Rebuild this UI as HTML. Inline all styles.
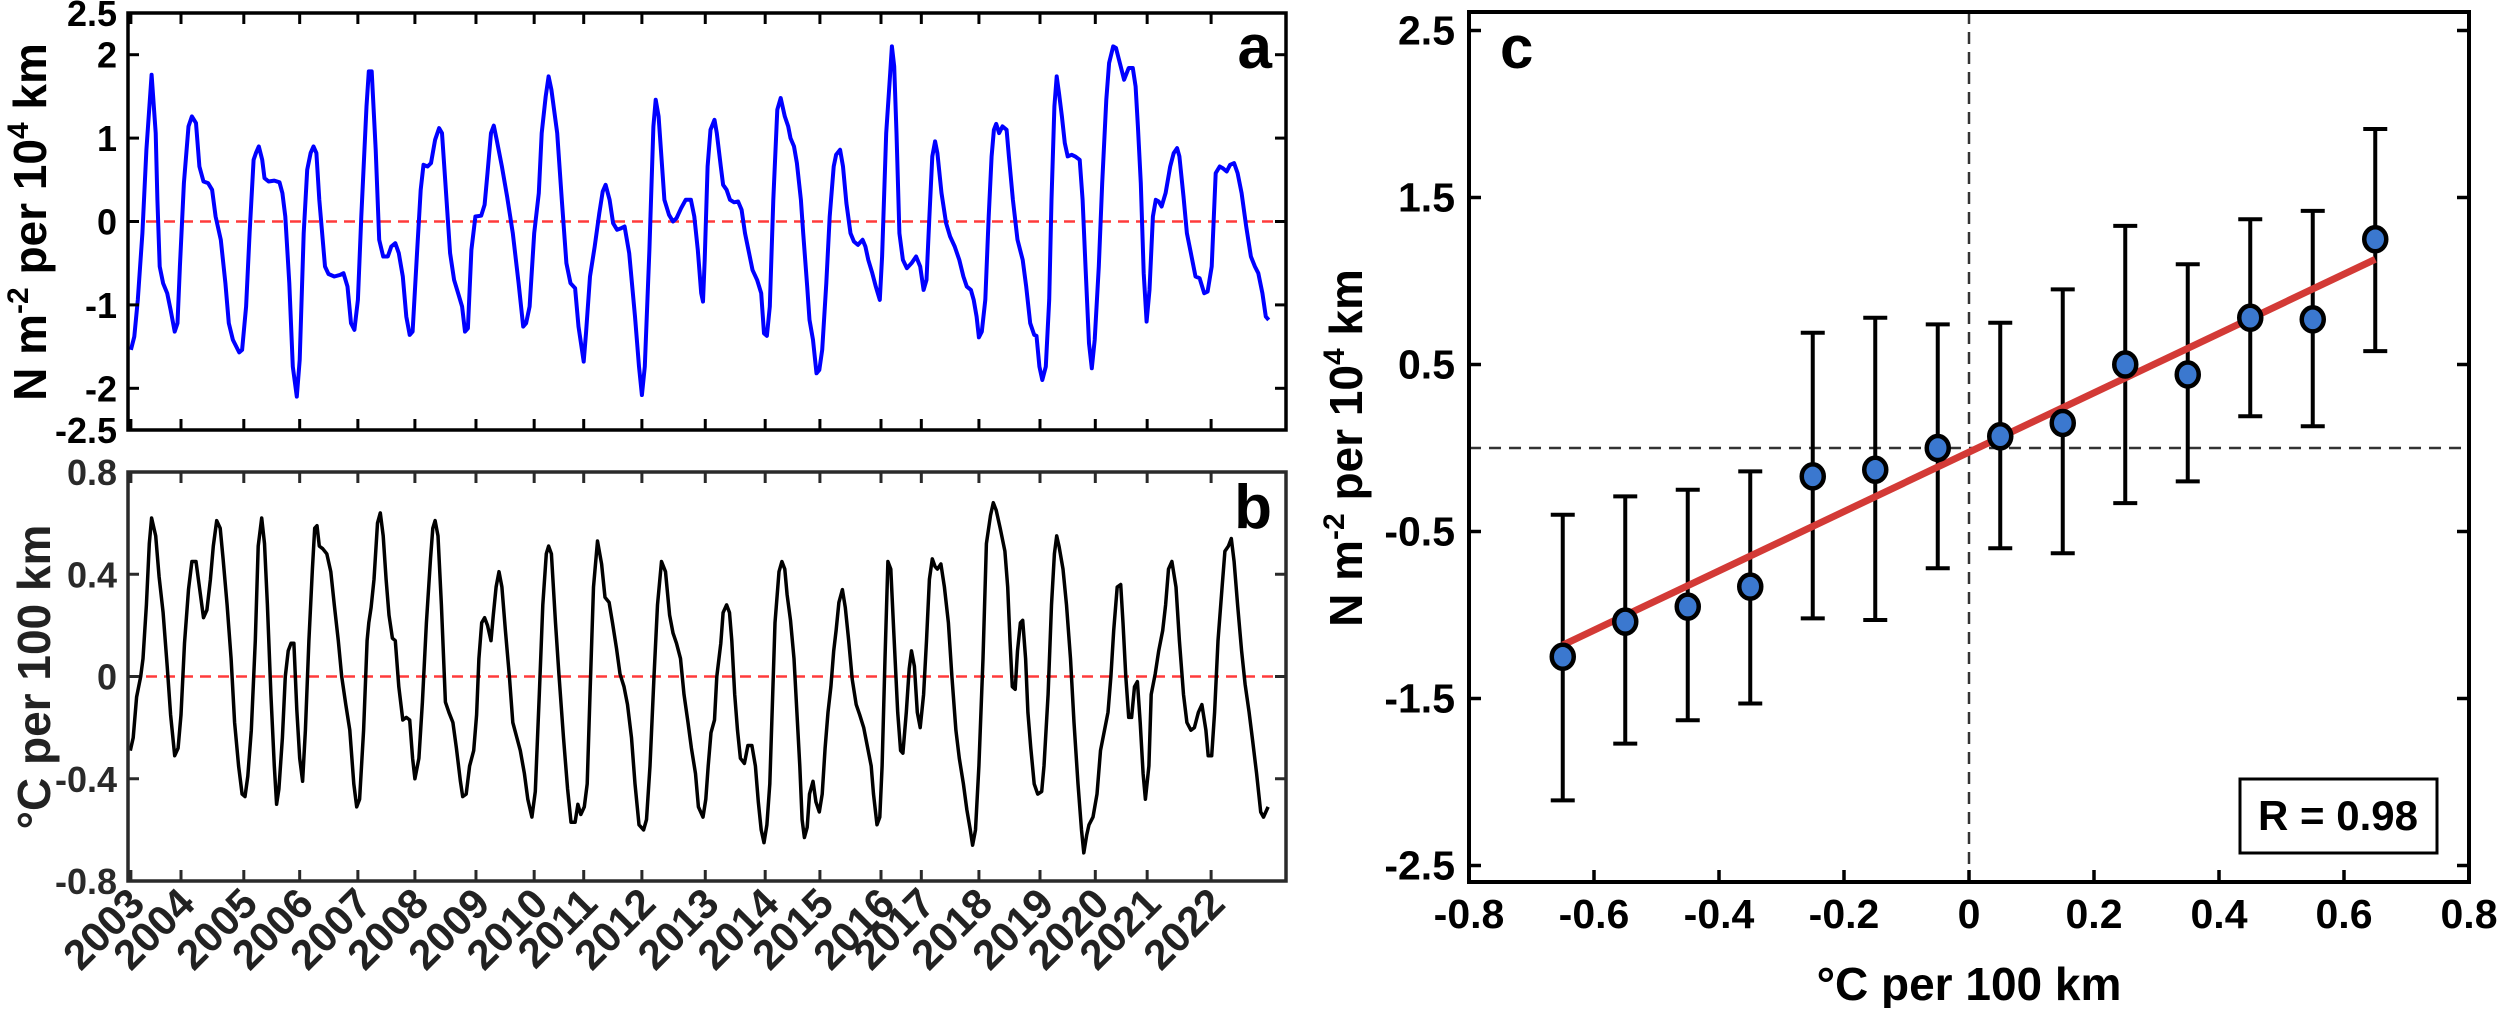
<!DOCTYPE html>
<html><head><meta charset="utf-8"><style>
html,body{margin:0;padding:0;background:#fff;}
svg text{font-family:"Liberation Sans",Arial,sans-serif;font-weight:bold;}
</style></head><body>
<svg id="fig" width="2500" height="1008" viewBox="0 0 2500 1008" xmlns="http://www.w3.org/2000/svg">
<g id="pa"></g>
<g id="pb"></g>
<g id="pc"></g>
</svg>
<script>
// ---------- Panel a / b data (time in years since 2003) ----------
const aT=[0.00,0.06,0.12,0.20,0.27,0.36,0.43,0.46,0.50,0.56,0.63,0.69,0.76,0.81,0.85,0.92,1.00,1.06,1.13,1.19,1.26,1.34,1.41,1.47,1.56,1.64,1.70,1.77,1.88,1.93,2.00,2.06,2.13,2.17,2.22,2.28,2.32,2.39,2.49,2.58,2.63,2.68,2.75,2.81,2.88,2.93,3.00,3.06,3.12,3.17,3.22,3.27,3.37,3.43,3.53,3.63,3.69,3.76,3.82,3.88,3.94,4.00,4.09,4.13,4.18,4.25,4.31,4.38,4.46,4.52,4.59,4.65,4.72,4.78,4.84,4.89,4.97,5.03,5.08,5.15,5.21,5.28,5.35,5.40,5.46,5.54,5.61,5.68,5.75,5.80,5.85,5.91,5.98,6.08,6.14,6.19,6.25,6.30,6.35,6.44,6.53,6.63,6.73,6.81,6.86,6.92,7.00,7.08,7.13,7.20,7.25,7.30,7.40,7.48,7.56,7.63,7.71,7.77,7.86,7.90,7.97,8.05,8.13,8.19,8.24,8.31,8.37,8.44,8.51,8.57,8.65,8.75,8.82,8.87,8.92,9.00,9.07,9.11,9.16,9.26,9.34,9.41,9.47,9.55,9.63,9.72,9.78,9.84,9.90,9.93,
9.96,10.01,10.06,10.13,10.17,10.24,10.28,10.34,10.40,10.47,10.54,10.60,10.66,10.73,10.79,10.87,10.94,10.99,11.04,11.09,11.15,11.22,11.28,11.35,11.41,11.45,11.51,11.56,11.63,11.67,11.74,11.78,11.84,11.90,11.95,12.00,12.07,12.13,12.20,12.24,12.31,12.36,12.42,12.49,12.55,12.62,12.70,12.75,12.80,12.87,12.93,13.00,13.04,13.11,13.18,13.21,13.25,13.29,13.34,13.40,13.47,13.55,13.63,13.70,13.76,13.81,13.86,13.91,13.96,14.00,14.07,14.15,14.22,14.30,14.38,14.45,14.51,14.58,14.63,14.68,14.72,14.77,14.83,14.89,14.94,14.98,15.02,15.07,15.13,15.20,15.24,15.31,15.39,15.48,15.54,15.61,15.68,15.72,15.77,15.82,15.88,15.94,15.98,16.03,16.07,16.11,16.16,16.21,16.26,16.33,16.39,16.47,16.52,16.57,16.63,16.68,16.73,16.80,16.86,16.93,16.98,17.05,17.10,17.18,17.24,17.32,17.39,17.44,17.48,17.53,17.58,17.63,17.68,17.74,17.79,17.84,17.89,17.96,18.04,18.10,18.16,18.20,18.27,18.33,18.40,18.48,18.55,18.63,18.69,18.76,18.83,18.90,18.95,19.02,19.08,19.15,19.21,19.28,19.36,19.44,19.51,19.57,19.64,19.70,19.75];
const aV=[-1.54,-1.38,-0.94,-0.14,0.86,1.76,1.06,0.26,-0.54,-0.74,-0.86,-1.06,-1.32,-1.22,-0.54,0.46,1.14,1.26,1.18,0.66,0.48,0.46,0.38,0.06,-0.22,-0.74,-1.22,-1.42,-1.57,-1.54,-1.02,-0.14,0.74,0.82,0.90,0.74,0.52,0.48,0.49,0.47,0.34,0.06,-0.74,-1.74,-2.10,-1.66,-0.14,0.62,0.82,0.90,0.82,0.26,-0.54,-0.63,-0.66,-0.64,-0.62,-0.78,-1.22,-1.30,-0.94,0.06,1.38,1.80,1.80,0.86,-0.22,-0.42,-0.42,-0.30,-0.26,-0.38,-0.66,-1.14,-1.36,-1.32,-0.34,0.38,0.68,0.66,0.70,0.98,1.12,1.06,0.46,-0.38,-0.70,-0.86,-1.02,-1.32,-1.28,-0.34,0.06,0.07,0.20,0.58,1.06,1.15,0.98,0.66,0.30,-0.14,-0.74,-1.26,-1.22,-1.02,-0.14,0.34,1.06,1.50,1.74,1.58,1.06,0.26,-0.50,-0.74,-0.80,-1.26,-1.68,-1.34,-0.66,-0.30,0.10,0.36,0.44,0.26,-0.02,-0.10,-0.08,-0.06,-0.38,-1.14,-1.74,-2.08,-1.74,-0.34,1.14,1.46,1.26,0.26,0.08,0.00,0.04,0.16,0.26,0.26,0.06,-0.34,-0.86,-0.96,
-0.46,0.66,1.10,1.22,1.06,0.66,0.44,0.38,0.26,0.23,0.24,0.14,-0.14,-0.38,-0.58,-0.70,-0.86,-1.34,-1.37,-1.02,0.26,1.34,1.48,1.26,1.14,1.00,0.90,0.70,0.26,-0.14,-0.78,-1.18,-1.42,-1.82,-1.78,-1.54,-0.74,0.06,0.66,0.80,0.86,0.66,0.22,-0.14,-0.24,-0.28,-0.22,-0.30,-0.46,-0.62,-0.78,-0.94,-0.42,1.06,1.78,2.10,1.86,1.06,-0.14,-0.46,-0.56,-0.50,-0.42,-0.54,-0.82,-0.70,0.06,0.78,0.96,0.82,0.34,-0.02,-0.18,-0.30,-0.46,-0.66,-0.78,-0.82,-0.94,-1.14,-1.39,-1.32,-0.94,0.06,0.78,1.10,1.17,1.06,1.14,1.10,0.78,0.26,-0.22,-0.46,-0.78,-1.22,-1.36,-1.37,-1.74,-1.90,-1.74,-0.94,0.26,1.38,1.74,1.54,1.26,0.94,0.78,0.80,0.78,0.74,0.26,-0.54,-1.46,-1.76,-1.42,-0.54,0.46,1.46,1.90,2.10,2.08,1.86,1.70,1.84,1.84,1.62,1.14,0.46,-0.62,-1.20,-0.82,0.06,0.26,0.24,0.18,0.34,0.66,0.82,0.88,0.78,0.30,-0.14,-0.38,-0.66,-0.68,-0.86,-0.84,-0.54,0.58,0.66,0.64,0.60,0.68,0.70,0.58,0.34,-0.06,-0.42,-0.54,-0.62,-0.86,-1.14,-1.18];
const bT=[-0.01,0.04,0.10,0.17,0.21,0.27,0.32,0.36,0.43,0.49,0.56,0.63,0.69,0.76,0.82,0.87,0.93,1.00,1.06,1.13,1.19,1.26,1.32,1.38,1.43,1.49,1.55,1.60,1.67,1.74,1.80,1.87,1.93,1.98,2.03,2.09,2.16,2.21,2.27,2.32,2.37,2.43,2.49,2.53,2.57,2.63,2.68,2.73,2.78,2.83,2.88,2.93,2.98,3.03,3.09,3.15,3.19,3.23,3.27,3.33,3.40,3.47,3.53,3.60,3.66,3.73,3.80,3.87,3.92,3.97,4.04,4.10,4.13,4.17,4.22,4.28,4.33,4.38,4.43,4.48,4.54,4.59,4.65,4.72,4.78,4.84,4.89,4.93,5.00,5.06,5.13,5.20,5.24,5.28,5.33,5.39,5.46,5.52,5.59,5.65,5.72,5.76,5.82,5.88,5.95,6.00,6.04,6.09,6.14,6.19,6.25,6.29,6.34,6.39,6.44,6.50,6.57,6.63,6.70,6.76,6.83,6.89,6.96,7.02,7.09,7.15,7.21,7.25,7.30,7.37,7.43,7.51,7.58,7.64,7.71,7.76,7.81,7.87,7.92,7.97,8.03,8.10,8.17,8.23,8.30,8.36,8.43,8.49,8.56,8.62,8.69,8.75,8.82,8.90,8.95,9.01,9.08,9.14,9.21,9.28,9.35,9.41,9.47,9.54,9.60,9.67,9.73,9.80,9.85,
9.93,9.98,10.02,10.07,10.13,10.17,10.24,10.28,10.34,10.39,10.43,10.48,10.53,10.58,10.65,10.71,10.78,10.84,10.89,10.94,10.99,11.04,11.09,11.14,11.18,11.25,11.30,11.35,11.39,11.45,11.51,11.56,11.61,11.65,11.69,11.74,11.78,11.84,11.89,11.95,12.00,12.05,12.10,12.15,12.20,12.24,12.29,12.35,12.40,12.46,12.52,12.59,12.65,12.72,12.78,12.85,12.89,12.95,13.00,13.04,13.09,13.14,13.19,13.24,13.31,13.36,13.40,13.46,13.51,13.55,13.60,13.65,13.70,13.76,13.81,13.86,13.91,13.96,14.00,14.06,14.12,14.19,14.25,14.32,14.38,14.45,14.51,14.57,14.61,14.66,14.72,14.79,14.85,14.92,14.97,15.02,15.09,15.17,15.22,15.26,15.30,15.35,15.39,15.44,15.48,15.53,15.57,15.62,15.68,15.74,15.81,15.85,15.92,15.98,16.03,16.07,16.11,16.18,16.24,16.31,16.37,16.44,16.50,16.54,16.59,16.63,16.70,16.77,16.83,16.90,16.96,17.01,17.06,17.12,17.18,17.22,17.27,17.32,17.37,17.42,17.47,17.52,17.57,17.61,17.67,17.71,17.78,17.84,17.91,17.96,18.01,18.07,18.14,18.20,18.27,18.33,18.40,18.46,18.53,18.59,18.66,18.70,18.76,18.81,18.87,18.94,18.99,19.05,19.10,19.15,19.21,19.28,19.34,19.41,19.47,19.54,19.61,19.66,19.74];
const bV=[-0.29,-0.24,-0.08,0.00,0.07,0.28,0.52,0.62,0.55,0.39,0.25,0.04,-0.15,-0.31,-0.28,-0.15,0.13,0.34,0.45,0.45,0.35,0.23,0.26,0.38,0.51,0.61,0.58,0.46,0.28,0.07,-0.18,-0.35,-0.46,-0.47,-0.39,-0.21,0.14,0.51,0.62,0.52,0.28,-0.07,-0.35,-0.50,-0.44,-0.24,0.00,0.10,0.13,0.13,-0.13,-0.32,-0.41,-0.21,0.14,0.42,0.58,0.59,0.51,0.50,0.48,0.41,0.28,0.14,0.00,-0.11,-0.21,-0.42,-0.51,-0.48,-0.21,0.14,0.21,0.27,0.38,0.60,0.64,0.55,0.38,0.24,0.15,0.14,-0.04,-0.17,-0.16,-0.17,-0.32,-0.40,-0.32,-0.10,0.21,0.46,0.58,0.61,0.55,0.28,-0.10,-0.14,-0.18,-0.28,-0.41,-0.47,-0.46,-0.35,-0.29,-0.15,0.07,0.21,0.23,0.20,0.14,0.24,0.35,0.41,0.35,0.18,0.00,-0.18,-0.24,-0.29,-0.38,-0.48,-0.55,-0.45,-0.07,0.28,0.48,0.51,0.48,0.21,0.01,-0.24,-0.44,-0.57,-0.57,-0.50,-0.54,-0.51,-0.42,-0.07,0.35,0.53,0.44,0.31,0.29,0.21,0.11,0.01,-0.04,-0.11,-0.24,-0.42,-0.58,-0.60,-0.56,-0.35,0.00,0.28,0.45,0.41,0.24,0.17,0.13,0.07,-0.07,-0.18,-0.28,-0.38,-0.51,
-0.55,-0.48,-0.35,-0.22,-0.17,0.00,0.13,0.25,0.28,0.25,0.14,-0.07,-0.21,-0.32,-0.34,-0.27,-0.27,-0.35,-0.49,-0.60,-0.65,-0.58,-0.42,-0.07,0.21,0.41,0.45,0.42,0.32,0.22,0.07,-0.14,-0.35,-0.56,-0.63,-0.59,-0.46,-0.41,-0.49,-0.53,-0.46,-0.28,-0.14,-0.04,0.10,0.18,0.29,0.34,0.27,0.14,-0.01,-0.11,-0.15,-0.20,-0.27,-0.35,-0.46,-0.58,-0.55,-0.35,0.07,0.45,0.42,0.18,-0.14,-0.29,-0.30,-0.14,0.03,0.10,0.04,-0.14,-0.20,-0.07,0.14,0.38,0.46,0.43,0.42,0.44,0.35,0.21,0.00,-0.21,-0.32,-0.42,-0.52,-0.60,-0.66,-0.60,-0.35,0.07,0.52,0.63,0.68,0.65,0.58,0.49,0.35,0.14,-0.04,-0.05,0.10,0.21,0.22,0.07,-0.14,-0.28,-0.42,-0.46,-0.45,-0.35,-0.07,0.28,0.48,0.55,0.51,0.42,0.28,0.07,-0.18,-0.42,-0.60,-0.69,-0.62,-0.58,-0.55,-0.46,-0.29,-0.21,-0.14,0.00,0.18,0.35,0.36,0.21,0.00,-0.16,-0.16,-0.04,-0.02,-0.18,-0.38,-0.48,-0.35,-0.07,0.01,0.10,0.18,0.28,0.42,0.45,0.35,0.14,-0.07,-0.18,-0.21,-0.20,-0.14,-0.11,-0.21,-0.31,-0.31,-0.14,0.14,0.35,0.49,0.51,0.54,0.45,0.28,0.10,-0.03,-0.14,-0.25,-0.38,-0.53,-0.55,-0.51];
const yearTickT=[0,0.87,1.96,2.93,3.94,4.93,5.99,7.00,7.86,8.87,9.97,11.01,11.96,13.02,13.72,14.72,15.78,16.74,17.64,18.75];
const yearLabels=["2003","2004","2005","2006","2007","2008","2009","2010","2011","2012","2013","2014","2015","2016","2017","2018","2019","2020","2021","2022"];
const aTicks=[2,1,0,-1,-2];
const aTickLabels=["2.5","2","1","0","-1","-2","-2.5"];
const aTickLabelVals=[2.5,2,1,0,-1,-2,-2.5];
const bTicks=[0.4,0,-0.4];
const bTickLabels=["0.8","0.4","0","-0.4","-0.8"];
const bTickLabelVals=[0.8,0.4,0,-0.4,-0.8];
// ---------- Panel c data ----------
const cX=[-0.65,-0.55,-0.45,-0.35,-0.25,-0.15,-0.05,0.05,0.15,0.25,0.35,0.45,0.55,0.65];
const cY=[-1.25,-1.04,-0.95,-0.83,-0.17,-0.13,0.00,0.07,0.15,0.50,0.44,0.78,0.77,1.25];
const cHi=[-0.40,-0.29,-0.25,-0.14,0.69,0.78,0.74,0.75,0.95,1.33,1.10,1.37,1.42,1.91];
const cLo=[-2.11,-1.77,-1.63,-1.53,-1.02,-1.03,-0.72,-0.60,-0.63,-0.33,-0.20,0.19,0.13,0.58];
const fitX=[-0.65,0.65];
const fitY=[-1.18,1.13];
const cXTicks=[-0.8,-0.6,-0.4,-0.2,0,0.2,0.4,0.6,0.8];
const cXTickLabels=["-0.8","-0.6","-0.4","-0.2","0","0.2","0.4","0.6","0.8"];
const cYTicks=[2.5,1.5,0.5,-0.5,-1.5,-2.5];
const cYTickLabels=["2.5","1.5","0.5","-0.5","-1.5","-2.5"];

const NS="http://www.w3.org/2000/svg";
function mk(parent,tag,attrs,text){const e=document.createElementNS(NS,tag);for(const k in attrs)e.setAttribute(k,attrs[k]);if(text!==undefined)e.textContent=text;parent.appendChild(e);return e;}
function lin(d0,d1,r0,r1){return v=>r0+(v-d0)*(r1-r0)/(d1-d0);}

const L=128,R=1286;
const tx=lin(-0.05,20.05,L,R);

function timePanel(g,top,bot,y,ticks,labVals,labs,tArr,vArr,color,lw,tickColor,letter,letterY,name){
  let d="";for(let i=0;i<tArr.length;i++){d+=(i?"L":"M")+tx(tArr[i]).toFixed(1)+","+y(vArr[i]).toFixed(1);}
  const zl=mk(g,"line",{x1:L,x2:R,y1:y(0),y2:y(0),stroke:"#ff3b3b","stroke-width":2.5,"stroke-dasharray":"11 7"});
  
  
  const p=mk(g,"path",{d:d,fill:"none",stroke:color,"stroke-width":lw,"stroke-linejoin":"round"});
  
  
  const box=mk(g,"rect",{x:L,y:top,width:R-L,height:bot-top,fill:"none",stroke:tickColor,"stroke-width":3.5});
  
  
  yearTickT.forEach(t=>{
    const x=tx(t);
    const t1=mk(g,"line",{x1:x,x2:x,y1:bot,y2:bot-11,stroke:tickColor,"stroke-width":3});
    
    
    const t2=mk(g,"line",{x1:x,x2:x,y1:top,y2:top+11,stroke:tickColor,"stroke-width":3});
    
    
  });
  ticks.forEach(v=>{
    const t1=mk(g,"line",{x1:L,x2:L+11,y1:y(v),y2:y(v),stroke:tickColor,"stroke-width":3});
    
    
    const t2=mk(g,"line",{x1:R,x2:R-11,y1:y(v),y2:y(v),stroke:tickColor,"stroke-width":3});
    
    
  });
  labVals.forEach((v,i)=>{
    const t=mk(g,"text",{x:117,y:y(v)+13,"text-anchor":"end","font-size":36,fill:tickColor},labs[i]);
    
    
  });
  const lt=mk(g,"text",{x:1272,y:letterY,"text-anchor":"end","font-size":62,fill:"#000"},letter);
  
  
}

// Panel a
const ga=document.getElementById('pa');
const ya=lin(2.5,-2.5,13,430);
timePanel(ga,13,430,ya,aTicks,aTickLabelVals,aTickLabels,aT,aV,"#0000ff",4,"#000","a",68,"panel-a");
const yla=mk(ga,"text",{x:0,y:0,transform:"translate(46,222) rotate(-90)","text-anchor":"middle","font-size":46,fill:"#000"});


yla.innerHTML='N m<tspan dy="-18" font-size="30">-2</tspan><tspan dy="18"> per 10</tspan><tspan dy="-18" font-size="30">4</tspan><tspan dy="18"> km</tspan>';

// Panel b
const gb=document.getElementById('pb');
const yb=lin(0.8,-0.8,472,881);
timePanel(gb,472,881,yb,bTicks,bTickLabelVals,bTickLabels,bT,bV,"#000",3.5,"#2a2a2a","b",528,"panel-b");
const ylb=mk(gb,"text",{x:0,y:0,transform:"translate(50,677) rotate(-90)","text-anchor":"middle","font-size":46,fill:"#222"},"°C per 100 km");


yearTickT.forEach((t,i)=>{
  const x=tx(t)+16;
  const lab=mk(gb,"text",{x:0,y:0,transform:"translate("+x+",906) rotate(-45)","text-anchor":"end","font-size":42,fill:"#222"},yearLabels[i]);
  
  
});

// Panel c
const gc=document.getElementById('pc');
const CL=1469,CR=2469,CT=12,CB=882;
const cx=lin(-0.8,0.8,CL,CR);
const cy=lin(0,1,448,281);
const vd=mk(gc,"line",{x1:cx(0),x2:cx(0),y1:CT,y2:CB,stroke:"#333","stroke-width":2.5,"stroke-dasharray":"12 8"});


const hd=mk(gc,"line",{x1:CL,x2:CR,y1:cy(0),y2:cy(0),stroke:"#333","stroke-width":2.5,"stroke-dasharray":"12 8"});


cX.forEach((xv,i)=>{
  const x=cx(xv);
  const eb=mk(gc,"path",{d:"M"+x+","+cy(cLo[i])+"V"+cy(cHi[i])+"M"+(x-12)+","+cy(cLo[i])+"H"+(x+12)+"M"+(x-12)+","+cy(cHi[i])+"H"+(x+12),stroke:"#000","stroke-width":4,fill:"none"});
  
  
});
const fit=mk(gc,"line",{x1:cx(fitX[0]),y1:cy(fitY[0]),x2:cx(fitX[1]),y2:cy(fitY[1]),stroke:"#d33a36","stroke-width":7});


cX.forEach((xv,i)=>{
  const m=mk(gc,"ellipse",{cx:cx(xv),cy:cy(cY[i]),rx:11,ry:12,fill:"#3b78cf",stroke:"#000","stroke-width":4.5});
  
  
});
const cbox=mk(gc,"rect",{x:CL,y:CT,width:CR-CL,height:CB-CT,fill:"none",stroke:"#000","stroke-width":4});


cXTicks.forEach((v,i)=>{
  const x=cx(v);
  const t=mk(gc,"line",{x1:x,x2:x,y1:CB,y2:CB-12,stroke:"#000","stroke-width":3.5});
  
  
  const l=mk(gc,"text",{x:x,y:928,"text-anchor":"middle","font-size":41,fill:"#000"},cXTickLabels[i]);
  
  
});
cYTicks.forEach((v,i)=>{
  const y=cy(v);
  const t=mk(gc,"line",{x1:CL,x2:CL+12,y1:y,y2:y,stroke:"#000","stroke-width":3.5});
  
  
  const t2=mk(gc,"line",{x1:CR,x2:CR-12,y1:y,y2:y,stroke:"#000","stroke-width":3.5});
  
  
  const l=mk(gc,"text",{x:1455,y:y+14,"text-anchor":"end","font-size":41,fill:"#000"},cYTickLabels[i]);
  
  
});
const xt=mk(gc,"text",{x:cx(0),y:1000,"text-anchor":"middle","font-size":46,fill:"#000"},"°C per 100 km");


const yt=mk(gc,"text",{x:0,y:0,transform:"translate(1362,448) rotate(-90)","text-anchor":"middle","font-size":46,fill:"#000"});


yt.innerHTML='N m<tspan dy="-18" font-size="30">-2</tspan><tspan dy="18"> per 10</tspan><tspan dy="-18" font-size="30">4</tspan><tspan dy="18"> km</tspan>';
const cl=mk(gc,"text",{x:1500,y:68,"font-size":60,fill:"#000"},"c");


const rb=mk(gc,"rect",{x:2240,y:779,width:197,height:74,fill:"#fff",stroke:"#000","stroke-width":3});


const rt=mk(gc,"text",{x:2338,y:830,"text-anchor":"middle","font-size":42,fill:"#000"},"R = 0.98");


</script>
</body></html>
